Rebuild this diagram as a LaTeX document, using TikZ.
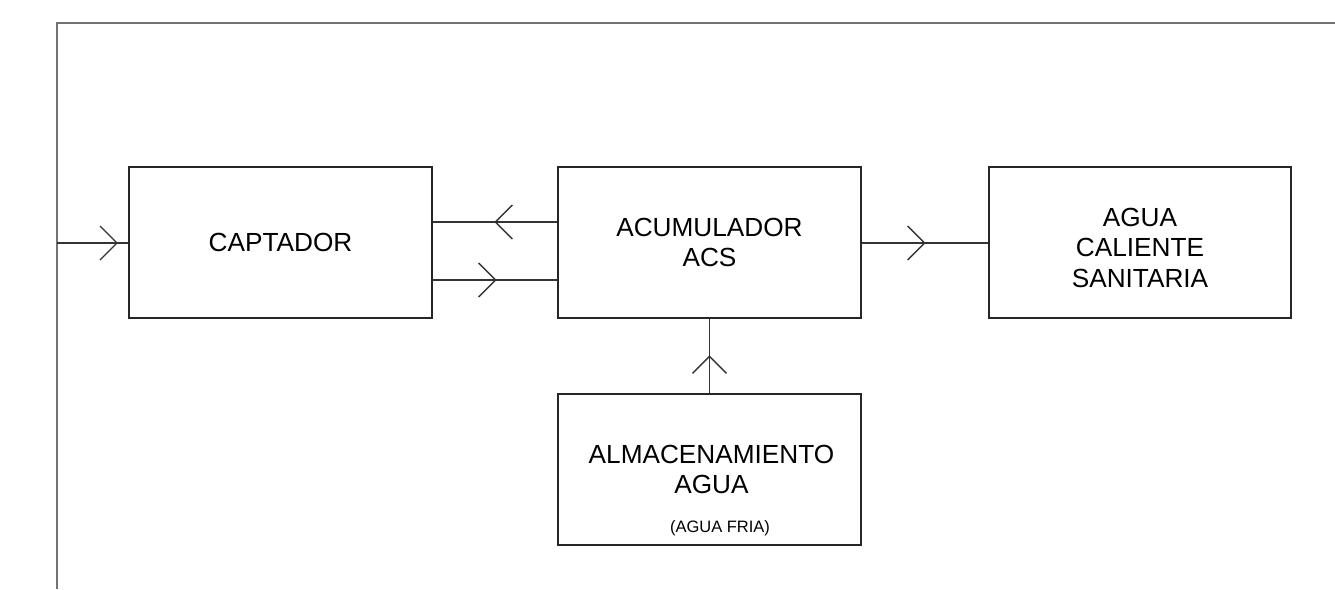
\documentclass[tikz,border=0pt]{standalone}
\usepackage{fontspec}
\setmainfont{Liberation Sans}
\usetikzlibrary{decorations.markings}
\tikzset{
  box/.style={draw=black!85, line width=1.3pt, minimum width=303pt, minimum height=151pt, inner sep=0pt},
  lbl/.style={align=center, font=\fontsize{26.2}{30.5}\selectfont, inner sep=0pt},
  small/.style={font=\fontsize{16.5}{18}\selectfont, inner sep=0pt},
  frame/.style={draw=black!55, line width=1.6pt},
  conn/.style={draw=black!80, line width=1.3pt},
  chev/.style={postaction={decorate}, decoration={markings,
    mark=at position #1 with {\draw[conn] (-17pt,-17pt)--(0,0)--(-17pt,17pt);}}}
}
\begin{document}
\begin{tikzpicture}[x=1pt,y=-1pt]
\useasboundingbox (0,0) rectangle (1335,589);
% frame
\coordinate (fb) at (57,589);
\coordinate (fc) at (57,23);
\coordinate (fr) at (1335,23);
\draw[frame] (fb) -- (fc) -- (fr);
% boxes
\node[box] (cap) at (280.5,242.5) {};
\node[lbl] (captxt) at (cap.center) {CAPTADOR};
\node[box] (acu) at (709.5,242.5) {};
\node[lbl] (acutxt) at (acu.center) {ACUMULADOR\\ACS};
\node[box, minimum width=302pt] (agua) at (1140,242.5) {};
\node[lbl] (aguatxt) at (1140,247.5) {AGUA\\CALIENTE\\SANITARIA};
\node[box] (alm) at (709.5,469.5) {};
\node[lbl] (almtxt) at (711.5,469.5) {ALMACENAMIENTO\\AGUA};
\node[small] (fria) at (720,528.5) {(AGUA FRIA)};
% connectors
\coordinate (fin) at (57,243);
\draw[conn, chev=60pt] (fin) -- (cap.west |- fin);
\draw[conn, chev=62pt] (acu.west |- 0,222) -- (cap.east |- 0,222);
\draw[conn, chev=63pt] (cap.east |- 0,280) -- (acu.west |- 0,280);
\draw[conn, chev=63pt] (acu.east |- 0,243) -- (agua.west |- 0,243);
\draw[conn, chev=37pt] (alm.north) -- (acu.south);
\end{tikzpicture}
\end{document}
